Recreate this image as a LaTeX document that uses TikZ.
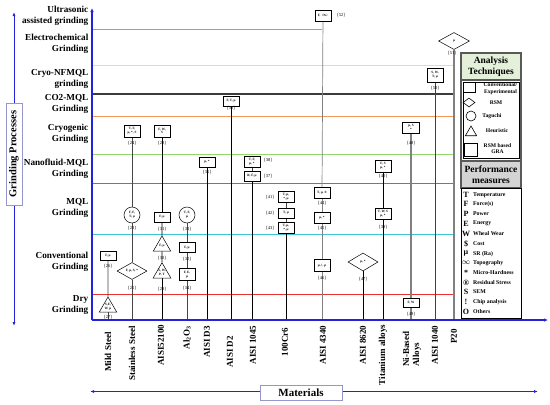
\documentclass[tikz,border=0pt]{standalone}
\usepackage{fontspec}
\setmainfont{Liberation Serif}
\usetikzlibrary{shapes.geometric,arrows.meta}
\pgfdeclarelayer{bg}
\pgfsetlayers{bg,main}
\definecolor{axblue}{RGB}{35,35,215}
\definecolor{boxblue}{RGB}{150,150,205}
\definecolor{cyanL}{RGB}{64,196,214}
\definecolor{yellowL}{RGB}{240,236,60}
\definecolor{darkL}{RGB}{60,60,60}
\definecolor{orangeL}{RGB}{244,152,90}
\definecolor{lgreenL}{RGB}{150,214,110}
\definecolor{greenL}{RGB}{40,170,70}
\definecolor{redL}{RGB}{236,48,48}
\definecolor{hdrgreen}{RGB}{228,240,218}
\definecolor{hdrgray}{RGB}{212,212,212}
\definecolor{vgray}{RGB}{70,70,70}
\begin{document}
\begin{tikzpicture}[x=1pt,y=-1pt,
  sbox/.style={draw=black, line width=0.5pt, fill=white, minimum width=16pt, minimum height=10pt, inner sep=0.3pt, align=center, font=\fontsize{3.3}{3.7}\selectfont\bfseries},
  scirc/.style={circle, draw=black, line width=0.5pt, fill=white, minimum size=16pt, inner sep=0pt, align=center, font=\fontsize{3.3}{3.7}\selectfont\bfseries},
  sdiam/.style={diamond, draw=black, line width=0.5pt, fill=white, minimum width=30pt, minimum height=17pt, inner sep=0pt, align=center, font=\fontsize{3.3}{3.7}\selectfont\bfseries},
  stri/.style={regular polygon, regular polygon sides=3, draw=black, line width=0.5pt, fill=white, minimum size=20pt, inner sep=0pt, align=center, font=\fontsize{3.3}{3.7}\selectfont\bfseries},
  lbl/.style={font=\fontsize{4.5}{5}\selectfont, inner sep=0pt},
  vline/.style={draw=vgray, line width=0.7pt},
  hline/.style={line width=1pt},
  glab/.style={font=\fontsize{9.2}{11}\selectfont\bfseries, align=right, anchor=east, inner sep=0pt},
  mlab/.style={font=\fontsize{9}{10}\selectfont\bfseries, rotate=90, inner sep=0pt},
  axisst/.style={draw=axblue, line width=1.5pt},
  legframe/.style={draw=gray!70!black, line width=1.2pt, minimum width=60pt, inner sep=0pt, align=center},
  lgtxt/.style={font=\fontsize{5.6}{6.4}\selectfont\bfseries, inner sep=0pt, align=center},
  pmsym/.style={font=\fontsize{8}{8}\selectfont\bfseries, inner sep=0pt},
  pmtxt/.style={font=\fontsize{5.8}{6}\selectfont\bfseries, inner sep=0pt, anchor=west}
]
\useasboundingbox (0,0) rectangle (550,405);

% ---------- left axis label ----------
\coordinate (gtop) at (14,12);
\coordinate (gbot) at (14,326);
\draw[axblue, line width=0.9pt, {Latex[length=4pt,width=3pt]}-{Latex[length=4pt,width=3pt]}] (gtop) -- (gbot);
\node[draw=boxblue, line width=0.8pt, fill=white, rotate=90, minimum width=102pt, minimum height=16pt, inner sep=0pt, font=\fontsize{10.5}{11}\selectfont\bfseries] (gp) at (14,154) {Grinding Processes};

% ---------- process labels ----------
\node[glab] (g1) at (88.5,15.5) {Ultrasonic\\assisted grinding};
\node[glab] (g2) at (88.5,43.5) {Electrochemical\\Grinding};
\node[glab] (g3) at (88.5,79) {Cryo-NFMQL\\grinding};
\node[glab] (g4) at (88.5,104) {CO2-MQL\\Grinding};
\node[glab] (g5) at (88.5,133.5) {Cryogenic\\Grinding};
\node[glab] (g6) at (88.5,168.5) {Nanofluid-MQL\\Grinding};
\node[glab] (g7) at (88.5,207.5) {MQL\\Grinding};
\node[glab] (g8) at (88.5,261.5) {Conventional\\Grinding};
\node[glab] (g9) at (88.5,304.5) {Dry\\Grinding};

% ---------- axis coordinates ----------
\coordinate (O) at (92,320);
\coordinate (ytop) at (92,8);
\coordinate (xend) at (548,320);
\coordinate (aMS) at (108,320);
\coordinate (aSS) at (132,320);
\coordinate (a521) at (162,320);
\coordinate (aAl) at (187,320);
\coordinate (aD3) at (207,320);
\coordinate (aD2) at (231,320);
\coordinate (a1045) at (252,320);
\coordinate (aCr) at (286,320);
\coordinate (a4340) at (322,320);
\coordinate (a8620) at (363,320);
\coordinate (aTi) at (383,320);
\coordinate (aNi) at (411,320);
\coordinate (a1040) at (435,320);
\coordinate (aP20) at (454,320);

% ---------- process boundary lines ----------
\begin{pgfonlayer}{bg}
\draw[hline, cyanL] (92,29) -- (322,29);
\draw[hline, yellowL] (92,65) -- (454,65);
\draw[hline, darkL, line width=1.4pt] (92,94) -- (454,94);
\draw[hline, orangeL] (92,116) -- (454,116);
\draw[hline, lgreenL] (92,154.5) -- (454,154.5);
\draw[hline, greenL] (92,183) -- (454,183);
\draw[hline, cyanL] (92,234) -- (454,234);
\draw[hline, redL] (92,294) -- (454,294);
\end{pgfonlayer}

% ---------- study nodes ----------
% Mild steel
\node[sbox, minimum height=9pt] (n26) at (108,256) {F, µ};
\node[lbl] (l26) at (108,266.5) {[26]};
\node[stri] (n27) at (108,307) {S,E,\\W, µ};
\node[lbl] (l27) at (108,317) {[27]};
% Stainless steel
\node[sbox, minimum height=12pt] (n24) at (132,131) {T, F,\\µ, *, S};
\node[lbl] (l24) at (132,143) {[24]};
\node[scirc] (n23) at (132,215) {F, F,\\T, µ};
\node[lbl] (l23) at (132,228) {[23]};
\node[sdiam] (n25) at (132,271) {F, µ, S, *};
\node[lbl] (l25) at (132,288) {[25]};
% AISI 52100
\node[sbox, minimum height=12pt] (n28) at (162,131) {F, W,\\S};
\node[lbl] (l28) at (162,143) {[28]};
\node[sbox] (n31) at (162,217) {F, µ};
\node[lbl] (l31) at (162,229) {[31]};
\node[stri] (n30) at (162,246) {F, µ};
\node[lbl] (l30) at (162,258) {[30]};
\node[stri] (n29) at (162,273) {S, W,\\P, T};
\node[lbl] (l29) at (162,289) {[29]};
% Al2O3
\node[scirc] (n33) at (187,215) {T, F,\\µ};
\node[lbl] (l33) at (187,229) {[33]};
\node[sbox] (n32) at (187,247.5) {F, µ};
\node[lbl] (l32) at (187,259) {[32]};
\node[sbox, minimum height=12pt] (n34) at (187,274.5) {F, E,\\µ};
\node[lbl] (l34) at (187,288) {[34]};
% AISI D3
\node[sbox] (n35) at (207,162) {µ, *};
\node[lbl] (l35) at (207,172.5) {[35]};
% AISI D2
\node[sbox] (n36) at (231,101) {F, T, µ};
\node[lbl] (l36) at (231,108.5) {[36]};
% AISI 1045
\node[sbox, minimum height=11pt] (n38) at (252,161.5) {T, F,\\µ, *};
\node[lbl] (l38) at (268,160) {[38]};
\node[sbox] (n37) at (252,176) {R, F, µ};
\node[lbl] (l37) at (268,176) {[37]};
% 100Cr6
\node[sbox, minimum height=11pt] (n41) at (286,197) {T, µ,\\*, µ};
\node[lbl] (l41) at (270,197) {[41]};
\node[sbox] (n42) at (286,213) {T, µ};
\node[lbl] (l42) at (270,213) {[42]};
\node[sbox, minimum height=11pt] (n43) at (286,227.5) {T, µ,\\*, µ};
\node[lbl] (l43) at (270,228) {[43]};
% AISI 4340
\node[sbox, minimum height=11pt] (n52) at (323,15.5) {F, $\infty$};
\node[lbl] (l52) at (341,15) {[52]};
\node[sbox, minimum height=11pt] (n44) at (322,192.5) {T, µ, ®};
\node[lbl] (l44) at (322,203.5) {[44]};
\node[sbox, minimum height=11pt] (n45) at (322,217.5) {µ, *};
\node[lbl] (l45) at (322,228) {[45]};
\node[sbox, minimum height=12pt] (n46) at (322,265.5) {µ, !, µ};
\node[lbl] (l46) at (322,278) {[46]};
% AISI 8620
\node[sdiam, minimum height=18pt] (n47) at (363,262) {µ, *};
\node[lbl] (l47) at (363,279) {[47]};
% Titanium alloys
\node[sbox, minimum height=12pt] (n40) at (383,166) {F, S\\µ, *};
\node[lbl] (l40) at (383,176.5) {[40]};
\node[sbox, minimum height=11pt] (n39) at (383,213.5) {T, W, S\\µ, *};
\node[lbl] (l39) at (383,227) {[39]};
% Ni-based alloys
\node[sbox, minimum height=11pt, minimum width=17pt] (n48) at (411,127.5) {µ, S\\*};
\node[lbl] (l48) at (411,143) {[48]};
\node[sbox, minimum height=9pt] (n49) at (411,303) {F, W};
\node[lbl] (l49) at (411,314) {[49]};
% AISI 1040
\node[sbox, minimum height=14pt] (n50) at (435,75) {S, W,\\T, µ};
\node[lbl] (l50) at (435,88) {[50]};
% P20
\node[sdiam, minimum width=31pt] (n51) at (454,41) {µ};
\node[lbl] (l51) at (452,53) {[51]};

% ---------- vertical connectors ----------
\begin{pgfonlayer}{bg}
\draw[vline] (n26) -- (n27);
\draw[vline] (n27) -- (aMS);
\draw[vline] (n24) -- (n23);
\draw[vline] (n23) -- (n25);
\draw[vline] (n25) -- (aSS);
\draw[vline, draw=black] (n28) -- (n31);
\draw[vline, draw=black] (n31) -- (n30);
\draw[vline, draw=black] (n30) -- (n29);
\draw[vline, draw=black] (n29) -- (a521);
\draw[vline] (n33) -- (n32);
\draw[vline] (n32) -- (n34);
\draw[vline] (n34) -- (aAl);
\draw[vline, draw=black] (n35) -- (aD3);
\draw[vline, draw=black] (n36) -- (aD2);
\draw[vline] (n38) -- (n37);
\draw[vline, draw=black] (n37) -- (a1045);
\draw[vline] (n41) -- (n42);
\draw[vline] (n42) -- (n43);
\draw[vline, draw=black] (n43) -- (aCr);
\draw[vline, draw=gray] (n52) -- (n44);
\draw[vline, draw=gray] (n44) -- (n45);
\draw[vline, draw=gray] (n45) -- (n46);
\draw[vline, draw=gray] (n46) -- (a4340);
\draw[vline, draw=black] (n47) -- (a8620);
\draw[vline, draw=black] (n40) -- (n39);
\draw[vline, draw=black] (n39) -- (aTi);
\draw[vline, draw=gray, line width=1.1pt] (n48) -- (n49);
\draw[vline, draw=gray, line width=1.1pt] (n49) -- (aNi);
\draw[vline, draw=black!75] (n50) -- (a1040);
\draw[vline, draw=gray, line width=1.1pt] (n51) -- (aP20);
\end{pgfonlayer}

% ---------- main axes ----------
\draw[axisst, -{Latex[length=4pt,width=3.5pt]}] (O) -- (ytop);
\draw[axisst, -{Latex[length=4pt,width=3.5pt]}] (O) -- (xend);

% ---------- material labels ----------
\node[mlab] (m1) at (108,352) {Mild Steel};
\node[mlab] (m2) at (132,353.5) {Stainless Steel};
\node[mlab] (m3) at (161,345) {AISI52100};
\node[mlab] (m4) at (187,337.5) {Al\textsubscript{2}O\textsubscript{3}};
\node[mlab] (m5) at (207,342) {AISI D3};
\node[mlab] (m6) at (230,352) {AISI D2};
\node[mlab] (m7) at (253,345) {AISI 1045};
\node[mlab] (m8) at (285,342) {100Cr6};
\node[mlab] (m9) at (323,345) {AISI 4340};
\node[mlab] (m10) at (363,345) {AISI 8620};
\node[mlab] (m11) at (383,355) {Titanium alloys};
\node[mlab, align=left] (m12) at (412,349) {Ni-Based\\Alloys};
\node[mlab] (m13) at (435,345) {AISI 1040};
\node[mlab] (m14) at (454,336.5) {P20};

% ---------- materials arrow ----------
\coordinate (mleft) at (90,391.5);
\coordinate (mright) at (538,391.5);
\draw[axblue, line width=0.9pt, {Latex[length=4pt,width=3pt]}-{Latex[length=4pt,width=3pt]}] (mleft) -- (mright);
\node[draw=boxblue, line width=0.8pt, fill=white, minimum width=82pt, minimum height=15pt, inner sep=0pt, font=\fontsize{11}{12}\selectfont\bfseries] (mat) at (301,392.5) {Materials};

% ---------- legend: analysis techniques ----------
\node[legframe, fill=hdrgreen, minimum height=27pt, font=\fontsize{9.5}{11}\selectfont\bfseries] (ath) at (491,66.5) {Analysis\\Techniques};
\node[legframe, minimum height=80pt] (atb) at (491,120.5) {};
\node[draw=black, line width=0.7pt, minimum width=56pt, minimum height=76pt, inner sep=0pt] (atbi) at (491,120.5) {};
\node[draw=black, line width=0.6pt, minimum width=12pt, minimum height=10pt, inner sep=0pt] (k1) at (469.5,87.5) {};
\node[lgtxt] (t1) at (500.5,88.5) {Conventional/\\Experimental};
\node[diamond, draw=black, line width=0.6pt, minimum width=12pt, minimum height=9pt, inner sep=0pt] (k2) at (469,102.5) {};
\node[lgtxt] (t2) at (496,102.5) {RSM};
\node[circle, draw=black, line width=0.6pt, minimum size=10pt, inner sep=0pt] (k3) at (471,116) {};
\node[lgtxt] (t3) at (492,116) {Taguchi};
\node[regular polygon, regular polygon sides=3, draw=black, line width=0.6pt, minimum size=13pt, inner sep=0pt] (k4) at (471,132.5) {};
\node[lgtxt] (t4) at (497,131) {Heuristic};
\node[draw=black, line width=0.6pt, minimum width=13pt, minimum height=13pt, inner sep=0pt] (k5) at (470.5,149.5) {};
\node[lgtxt] (t5) at (497.5,148.5) {RSM based\\GRA};

% ---------- legend: performance measures ----------
\node[legframe, fill=hdrgray, minimum height=27pt, font=\fontsize{9.5}{11}\selectfont\bfseries] (pmh) at (491,174.5) {Performance\\measures};
\node[draw=black, line width=0.8pt, minimum width=60pt, minimum height=130pt, inner sep=0pt] (pmb) at (491,253) {};
\foreach \s/\t/\y [count=\i] in {T/Temperature/195, F/Force(s)/204, P/Power/213.5, E/Energy/223.5, W/Wheal Wear/233.5, \$/Cost/243.5, µ/SR (Ra)/254, $\infty$/Topography/263, */Micro-Hardness/272.5, ®/Residual Stress/283, S/SEM/292, !/Chip analysis/302, O/Others/312}{
  \node[pmsym] (ps\i) at (466,\y) {\s};
  \node[pmtxt] (pt\i) at (473,\y) {\t};
}
\end{tikzpicture}
\end{document}
